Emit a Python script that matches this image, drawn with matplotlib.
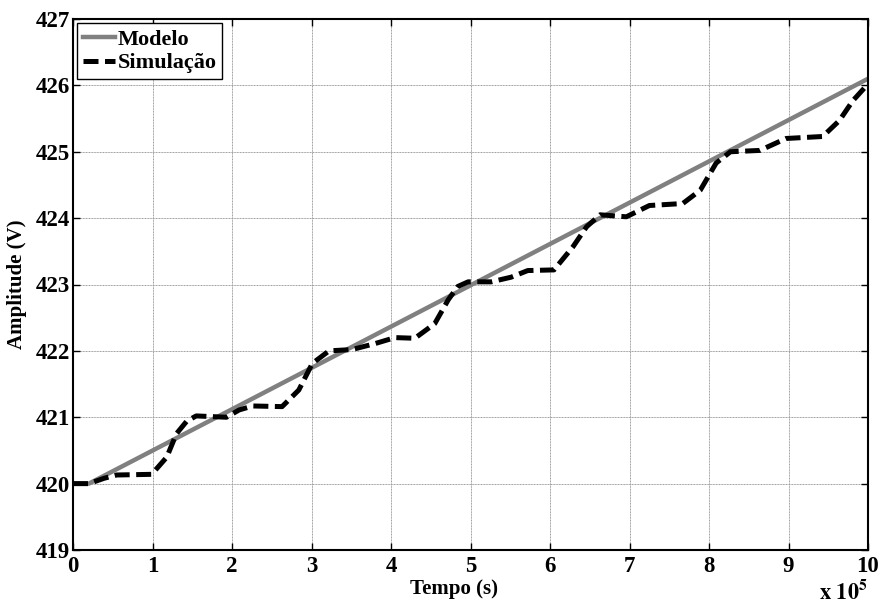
import matplotlib
matplotlib.use('Agg')
import matplotlib.pyplot as plt

plt.rcParams['font.family'] = ['Liberation Serif', 'DejaVu Serif']
plt.rcParams['font.weight'] = 'bold'
plt.rcParams['mathtext.fontset'] = 'stix'

# tempo em unidades de 10^5 s
t_modelo = [0, 0.2, 10]
v_modelo = [420, 420, 426.1]

t_sim = [0, 0.2, 0.39, 0.55, 0.99, 1.18, 1.30, 1.43, 1.55, 1.93, 2.09, 2.26,
         2.63, 2.84, 3.01, 3.22, 3.51, 3.80, 4.05, 4.30, 4.55, 4.72, 4.84,
         4.97, 5.26, 5.51, 5.72, 6.05, 6.29, 6.46, 6.63, 6.96, 7.25, 7.67,
         7.89, 8.09, 8.27, 8.64, 8.97, 9.43, 9.64, 9.81, 10.0]
v_sim = [420, 420, 420.08, 420.13, 420.14, 420.40, 420.75, 420.94, 421.02,
         421.0, 421.11, 421.17, 421.16, 421.41, 421.81, 422.0, 422.02, 422.11,
         422.20, 422.19, 422.41, 422.77, 422.97, 423.04, 423.04, 423.11,
         423.21, 423.22, 423.57, 423.87, 424.05, 424.02, 424.19, 424.22,
         424.42, 424.83, 425.0, 425.02, 425.2, 425.23, 425.47, 425.77, 426.02]

xticks = list(range(0, 11))
yticks = list(range(419, 428))

fig = plt.figure(figsize=(8.79, 6.05), dpi=100)
ax = fig.add_axes([73/879, 1-550/605, 795/879, 531/605])

ax.plot(t_modelo, v_modelo, color='#808080', lw=3.2, label='Modelo')
ax.plot(t_sim, v_sim, color='black', lw=3.6, dashes=(3, 1.3), label='Simulação')

ax.set_xlim(0, 10)
ax.set_ylim(419, 427)
ax.set_xticks(xticks)
ax.set_yticks(yticks)
ax.grid(True, color='#9a9a9a', lw=0.7, ls=(0, (1, 0.6)))
ax.tick_params(direction='in', length=5, width=1, top=True, right=True,
               labelsize=16.5, pad=2)
ax.tick_params(axis='x', pad=4)
for s in ax.spines.values():
    s.set_linewidth(1.5)

ax.set_xlabel('Tempo (s)', fontsize=15, fontweight='bold')
ax.xaxis.set_label_coords((454-73)/795, -0.054)
ax.set_ylabel('Amplitude (V)', fontsize=15, fontweight='bold')
ax.yaxis.set_label_coords(-0.058, 0.5)

fig.text(868/879, 1-604/605, r'$\mathbf{x\ 10^{5}}$', fontsize=16,
         ha='right', va='bottom')

leg = ax.legend(loc='upper left', fontsize=16, handlelength=1.45,
                handletextpad=0.1, borderaxespad=0.2, borderpad=0.25,
                labelspacing=0.15, fancybox=False, framealpha=1,
                edgecolor='black')
leg.get_frame().set_linewidth(1.0)
for txt in leg.get_texts():
    txt.set_fontweight('bold')

fig.savefig('out.png', dpi=100)
